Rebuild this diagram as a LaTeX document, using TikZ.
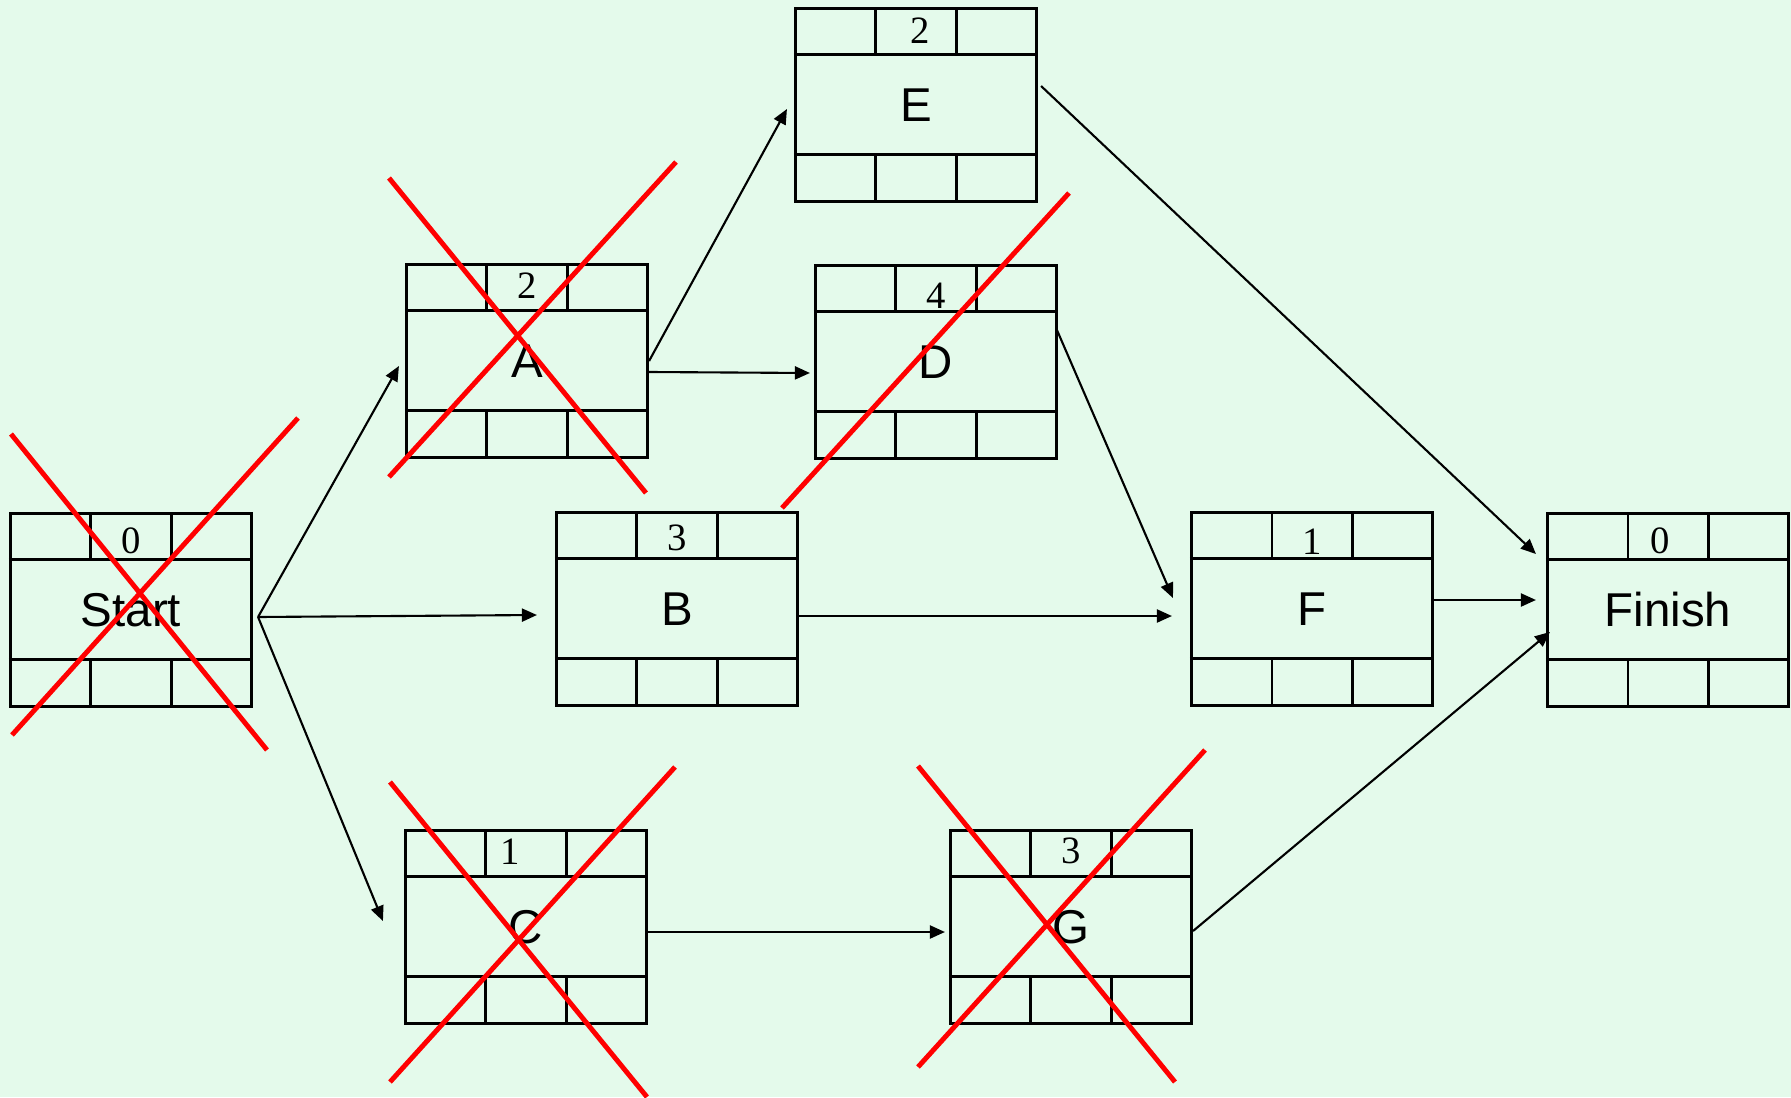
\documentclass[tikz,border=0pt]{standalone}
\usepackage{fontspec}
\setmainfont{Liberation Serif}
\newfontfamily\labelfont{Liberation Sans}
\usepackage{tikz}
\usetikzlibrary{arrows.meta, calc}
\definecolor{mintbg}{RGB}{228,250,235}

\tikzset{
  act/.style={draw, line width=0.85pt, minimum width=2.41cm, minimum height=1.92cm,
    inner sep=0pt, font=\labelfont\fontsize{13.5}{15}\selectfont},
  cell/.style={line width=0.85pt},
  dur/.style={font=\fontsize{11}{12}\selectfont, inner sep=0pt},
  link/.style={-{Triangle[length=1.5mm,width=1.3mm]}, line width=0.6pt},
  strike/.style={red, line width=1.4pt}
}

\begin{document}
\begin{tikzpicture}[x=0.01cm, y=-0.01cm]

  % Background
  \fill[mintbg] (0,0) rectangle (1791,1097);
  \useasboundingbox (0,0) rectangle (1791,1097);

  % Activity boxes
  \foreach \nm/\x/\y/\d/\dx/\dy/\t in {start/131/610/0/0/28/Start, A/527/361/2/0/22/A,
      E/916/105/2/4/23/E, D/936/362/4/0/31/D, B/677/609/3/0/26/B, F/1312/609/1/0/30/F,
      finish/1668/610/0/-8/28/Finish, C/526/927/1/-16/22/C, G/1071/927/3/0/21/G}{
    \node[act] (\nm) at (\x,\y) {\t};
    \draw[cell] ([yshift=-0.47cm]\nm.north west) -- ([yshift=-0.47cm]\nm.north east);
    \draw[cell] ([yshift=0.48cm]\nm.south west) -- ([yshift=0.48cm]\nm.south east);
    \foreach \s in {-0.4,0.4}{
      \draw[cell] ([xshift=\s cm]\nm.north) -- ([xshift=\s cm, yshift=-0.47cm]\nm.north);
      \draw[cell] ([xshift=\s cm]\nm.south) -- ([xshift=\s cm, yshift=0.48cm]\nm.south);
    }
    \node[dur] (\nm-d) at ($(\nm.north)+(\dx,\dy)$) {\d};
  }

  % Dependencies
  \draw[link] ($(start.east)+(5,7)$) -- ($(A.west)+(-6,5)$);
  \draw[link] ($(start.east)+(5,7)$) -- ($(B.west)+(-18,6)$);
  \draw[link] ($(start.east)+(5,7)$) -- ($(C.west)+(-21,-6)$);
  \draw[link] (A.east) -- ($(E.west)+(-7,4)$);
  \draw[link] ($(A.east)+(0,11)$) -- ($(D.west)+(-4,11)$);
  \draw[link] ($(D.east)+(-2,-34)$) -- ($(F.west)+(-17,-11)$);
  \draw[link] ($(E.east)+(3,-19)$) -- ($(finish.west)+(-10,-56)$);
  \draw[link] ($(B.east)+(0,7)$) -- ($(F.west)+(-18,7)$);
  \draw[link] ($(F.east)+(0,-9)$) -- ($(finish.west)+(-10,-10)$);
  \draw[link] ($(C.east)+(0,5)$) -- ($(G.west)+(-4,5)$);
  \draw[link] ($(G.east)+(0,4)$) -- ($(finish.west)+(4,22)$);

  % Crossed out
  \draw[strike] (11,434) -- (267,750);
  \draw[strike] (12,735) -- (298,418);
  \draw[strike] (389,178) -- (646,493);
  \draw[strike] (389,477) -- (676,162);
  \draw[strike] (782,508) -- (1069,193);
  \draw[strike] (390,782) -- (647,1097);
  \draw[strike] (390,1082) -- (675,767);
  \draw[strike] (918,766) -- (1175,1082);
  \draw[strike] (918,1067) -- (1205,750);

\end{tikzpicture}
\end{document}
